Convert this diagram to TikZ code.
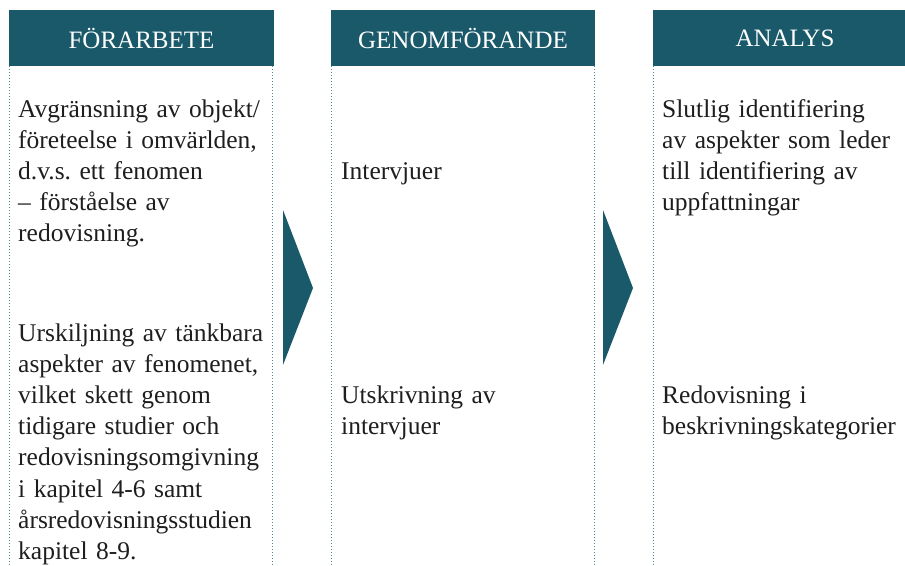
\documentclass[tikz,border=0pt]{standalone}
\usepackage{fontspec}
\setmainfont{Liberation Serif}
\frenchspacing
\definecolor{headteal}{RGB}{26,89,106}
\definecolor{dotteal}{RGB}{80,135,150}
\definecolor{bodyblack}{RGB}{30,30,30}
\begin{document}
\begin{tikzpicture}[x=1pt,y=-1pt,
    header/.style={fill=headteal,text=white,minimum height=56pt,minimum width=264pt,inner sep=0pt,font=\fontsize{25}{30}\selectfont},
    bodytext/.style={anchor=base west,inner sep=0pt,text width=300pt,align=left,text=bodyblack,font=\fontsize{25.5}{31.2}\selectfont},
    sepline/.style={line width=1pt,dotted,draw=dotteal},
    steparrow/.style={fill=headteal}]
    \useasboundingbox (0,0) rectangle (905,565);

    % Marking headers
    \node [header,minimum width=265pt] (pre) at (141.5,38) {FÖRARBETE};
    \node [header] (exe) at (463,38) {GENOMFÖRANDE};
    \node [header] (ana) at (785,38) {ANALYS};

    % Drawing dotted column borders
    \draw [sepline] ([xshift=0.5pt]pre.south west) -- ++(0,499);
    \draw [sepline] ([xshift=-1.5pt]pre.south east) -- ++(0,499);
    \draw [sepline] ([xshift=1pt]exe.south west) -- ++(0,499);
    \draw [sepline] ([xshift=-1pt]exe.south east) -- ++(0,499);
    \draw [sepline] ([xshift=1pt]ana.south west) -- ++(0,499);

    % Drawing step arrows
    \fill [steparrow] (283,210) -- (313,288) -- (283,365) -- cycle;
    \fill [steparrow] (603,210) -- (633,288) -- (603,365) -- cycle;

    % Marking texts of FÖRARBETE
    \node [bodytext] (preA) at (18,117) {Avgränsning av objekt/\\företeelse i omvärlden,\\d.v.s. ett fenomen\\– förståelse av\\redovisning.};
    \node [bodytext] (preB) at (18,341) {Urskiljning av tänkbara\\aspekter av fenomenet,\\vilket skett genom\\tidigare studier och\\redovisningsomgivning\\i kapitel 4-6 samt\\årsredovisningsstudien\\kapitel 8-9.};

    % Marking texts of GENOMFÖRANDE
    \node [bodytext] (exeA) at (341,179) {Intervjuer};
    \node [bodytext] (exeB) at (341,403) {Utskrivning av\\intervjuer};

    % Marking texts of ANALYS
    \node [bodytext] (anaA) at (662,117) {Slutlig identifiering\\av aspekter som leder\\till identifiering av\\uppfattningar};
    \node [bodytext] (anaB) at (662,403) {Redovisning i\\beskrivningskategorier};
\end{tikzpicture}
\end{document}
